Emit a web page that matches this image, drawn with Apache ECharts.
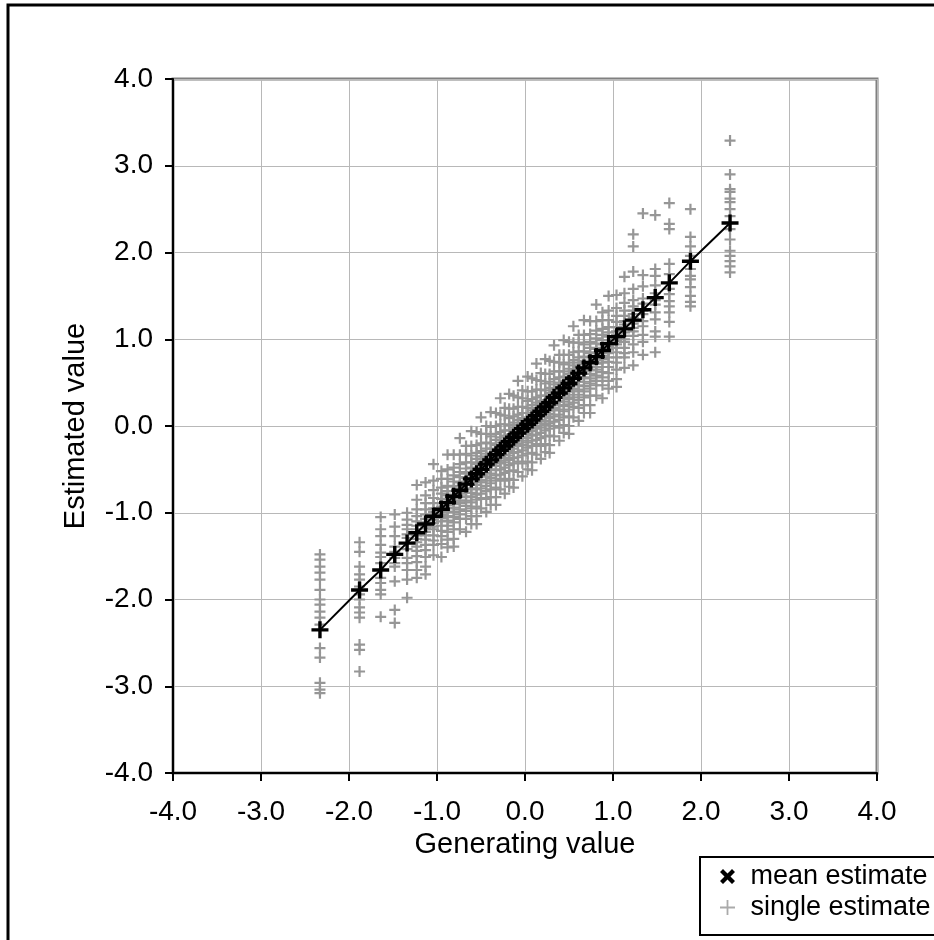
<!DOCTYPE html>
<html>
<head>
<meta charset="utf-8">
<script src="https://cdn.jsdelivr.net/npm/echarts@6/dist/echarts.min.js"></script>
<style>
  html, body { margin: 0; padding: 0; background: #fff; }
  #chart { width: 934px; height: 940px; }
</style>
</head>
<body>
<div id="chart"></div>
<script>
// generating values (one per replicate column)
const genValues = [-2.33, -1.88, -1.64, -1.48, -1.34, -1.23, -1.13, -1.04, -0.95, -0.88,
  -0.81, -0.74, -0.67, -0.61, -0.55, -0.50, -0.44, -0.39, -0.33, -0.28,
  -0.23, -0.18, -0.13, -0.08, -0.03, 0.03, 0.08, 0.13, 0.18, 0.23,
  0.28, 0.33, 0.39, 0.44, 0.50, 0.55, 0.61, 0.67, 0.74, 0.81,
  0.88, 0.95, 1.04, 1.13, 1.23, 1.34, 1.48, 1.64, 1.88, 2.33];

// mean estimate for each generating value
const meanValues = [-2.35, -1.89, -1.66, -1.48, -1.35, -1.23, -1.13, -1.04, -0.96, -0.88,
  -0.81, -0.74, -0.67, -0.61, -0.55, -0.50, -0.44, -0.39, -0.33, -0.28,
  -0.23, -0.18, -0.13, -0.08, -0.03, 0.02, 0.07, 0.12, 0.17, 0.22,
  0.27, 0.33, 0.38, 0.44, 0.49, 0.55, 0.61, 0.67, 0.73, 0.80,
  0.87, 0.95, 1.03, 1.12, 1.22, 1.34, 1.48, 1.65, 1.90, 2.34];

// single estimates, one row per generating value
const singleValues = [
  [-1.48, -1.54, -1.62, -1.69, -1.77, -1.89, -2.00, -2.06, -2.14, -2.21, -2.29, -2.56, -2.67, -2.96, -3.04, -3.08],
  [-1.34, -1.45, -1.62, -1.71, -1.77, -1.85, -1.94, -2.00, -2.09, -2.15, -2.21, -2.52, -2.58, -2.83],
  [-1.05, -1.19, -1.27, -1.37, -1.46, -1.51, -1.58, -1.75, -1.81, -1.89, -1.94, -2.20],
  [-1.02, -1.16, -1.27, -1.39, -1.45, -1.52, -1.58, -1.62, -1.79, -2.12, -2.27],
  [-1.00, -1.08, -1.14, -1.19, -1.25, -1.29, -1.42, -1.52, -1.58, -1.66, -1.77, -1.98],
  [-0.68, -0.85, -0.96, -1.04, -1.10, -1.15, -1.19, -1.23, -1.26, -1.30, -1.34, -1.39, -1.44, -1.50, -1.57, -1.66, -1.75],
  [-0.65, -0.80, -0.89, -0.96, -1.02, -1.07, -1.11, -1.15, -1.18, -1.22, -1.26, -1.31, -1.37, -1.43, -1.51, -1.62, -1.71],
  [-0.44, -0.63, -0.74, -0.83, -0.89, -0.95, -0.99, -1.03, -1.08, -1.12, -1.16, -1.19, -1.26, -1.32, -1.37, -1.49],
  [-0.52, -0.61, -0.71, -0.78, -0.84, -0.89, -0.93, -0.97, -1.02, -1.06, -1.10, -1.15, -1.21, -1.27, -1.36, -1.51],
  [-0.33, -0.50, -0.61, -0.69, -0.75, -0.80, -0.84, -0.88, -0.91, -0.95, -0.99, -1.04, -1.09, -1.15, -1.22, -1.31, -1.40],
  [-0.33, -0.48, -0.57, -0.64, -0.70, -0.75, -0.79, -0.83, -0.86, -0.90, -0.94, -0.99, -1.05, -1.11, -1.19, -1.30, -1.39],
  [-0.14, -0.33, -0.44, -0.53, -0.59, -0.65, -0.69, -0.73, -0.78, -0.82, -0.86, -0.89, -0.96, -1.02, -1.07, -1.19],
  [-0.23, -0.32, -0.42, -0.49, -0.55, -0.60, -0.64, -0.68, -0.73, -0.77, -0.81, -0.86, -0.92, -0.98, -1.07, -1.22],
  [-0.06, -0.23, -0.34, -0.42, -0.48, -0.53, -0.57, -0.61, -0.64, -0.68, -0.72, -0.77, -0.82, -0.88, -0.95, -1.04, -1.13],
  [-0.07, -0.22, -0.31, -0.38, -0.44, -0.49, -0.53, -0.57, -0.60, -0.64, -0.68, -0.73, -0.79, -0.85, -0.93, -1.04, -1.13],
  [0.10, -0.09, -0.20, -0.29, -0.35, -0.41, -0.45, -0.49, -0.54, -0.58, -0.62, -0.65, -0.72, -0.78, -0.83, -0.95],
  [0.00, -0.09, -0.19, -0.26, -0.32, -0.37, -0.41, -0.45, -0.50, -0.54, -0.58, -0.63, -0.69, -0.75, -0.84, -0.99],
  [0.16, -0.01, -0.12, -0.20, -0.26, -0.31, -0.35, -0.39, -0.42, -0.46, -0.50, -0.55, -0.60, -0.66, -0.73, -0.82, -0.91],
  [0.15, 0.00, -0.09, -0.16, -0.22, -0.27, -0.31, -0.35, -0.38, -0.42, -0.46, -0.51, -0.57, -0.63, -0.71, -0.82, -0.91],
  [0.32, 0.13, 0.02, -0.07, -0.13, -0.19, -0.23, -0.27, -0.32, -0.36, -0.40, -0.43, -0.50, -0.56, -0.61, -0.73],
  [0.21, 0.12, 0.02, -0.05, -0.11, -0.16, -0.20, -0.24, -0.29, -0.33, -0.37, -0.42, -0.48, -0.54, -0.63, -0.78],
  [0.37, 0.20, 0.09, 0.01, -0.05, -0.10, -0.14, -0.18, -0.21, -0.25, -0.29, -0.34, -0.39, -0.45, -0.52, -0.61, -0.70],
  [0.35, 0.20, 0.11, 0.04, -0.02, -0.07, -0.11, -0.15, -0.18, -0.22, -0.26, -0.31, -0.37, -0.43, -0.51, -0.62, -0.71],
  [0.52, 0.33, 0.22, 0.13, 0.07, 0.01, -0.03, -0.07, -0.12, -0.16, -0.20, -0.23, -0.30, -0.36, -0.41, -0.53],
  [0.41, 0.32, 0.22, 0.15, 0.09, 0.04, 0.00, -0.04, -0.09, -0.13, -0.17, -0.22, -0.28, -0.34, -0.43, -0.58],
  [0.57, 0.40, 0.29, 0.21, 0.15, 0.10, 0.06, 0.02, -0.01, -0.05, -0.09, -0.14, -0.19, -0.25, -0.32, -0.41, -0.50],
  [0.55, 0.40, 0.31, 0.24, 0.18, 0.13, 0.09, 0.05, 0.02, -0.02, -0.06, -0.11, -0.17, -0.23, -0.31, -0.42, -0.51],
  [0.72, 0.53, 0.42, 0.33, 0.27, 0.21, 0.17, 0.13, 0.08, 0.04, 0.00, -0.03, -0.10, -0.16, -0.21, -0.33],
  [0.61, 0.52, 0.42, 0.35, 0.29, 0.24, 0.20, 0.16, 0.11, 0.07, 0.03, -0.02, -0.08, -0.14, -0.23, -0.38],
  [0.77, 0.60, 0.49, 0.41, 0.35, 0.30, 0.26, 0.22, 0.19, 0.15, 0.11, 0.06, 0.01, -0.05, -0.12, -0.21, -0.30],
  [0.75, 0.60, 0.51, 0.44, 0.38, 0.33, 0.29, 0.25, 0.22, 0.18, 0.14, 0.09, 0.03, -0.03, -0.11, -0.22, -0.31],
  [0.93, 0.74, 0.63, 0.54, 0.48, 0.42, 0.38, 0.34, 0.29, 0.25, 0.21, 0.18, 0.11, 0.05, 0.00, -0.12],
  [0.82, 0.73, 0.63, 0.56, 0.50, 0.45, 0.41, 0.37, 0.32, 0.28, 0.24, 0.19, 0.13, 0.07, -0.02, -0.17],
  [0.99, 0.82, 0.71, 0.63, 0.57, 0.52, 0.48, 0.44, 0.41, 0.37, 0.33, 0.28, 0.23, 0.17, 0.10, 0.01, -0.08],
  [0.97, 0.82, 0.73, 0.66, 0.60, 0.55, 0.51, 0.47, 0.44, 0.40, 0.36, 0.31, 0.25, 0.19, 0.11, 0.00, -0.09],
  [1.15, 0.96, 0.85, 0.76, 0.70, 0.64, 0.60, 0.56, 0.51, 0.47, 0.43, 0.40, 0.33, 0.27, 0.22, 0.10],
  [1.05, 0.96, 0.86, 0.79, 0.73, 0.68, 0.64, 0.60, 0.55, 0.51, 0.47, 0.42, 0.36, 0.30, 0.21, 0.06],
  [1.22, 1.05, 0.94, 0.86, 0.80, 0.75, 0.71, 0.67, 0.64, 0.60, 0.56, 0.51, 0.46, 0.40, 0.33, 0.24, 0.15],
  [1.21, 1.06, 0.97, 0.90, 0.84, 0.79, 0.75, 0.71, 0.68, 0.64, 0.60, 0.55, 0.49, 0.43, 0.35, 0.24, 0.15],
  [1.40, 1.21, 1.10, 1.01, 0.95, 0.89, 0.85, 0.81, 0.76, 0.72, 0.68, 0.65, 0.58, 0.52, 0.47, 0.35],
  [1.31, 1.22, 1.12, 1.05, 0.99, 0.94, 0.90, 0.86, 0.81, 0.77, 0.73, 0.68, 0.62, 0.56, 0.47, 0.32],
  [1.50, 1.33, 1.22, 1.14, 1.08, 1.03, 0.99, 0.95, 0.92, 0.88, 0.84, 0.79, 0.74, 0.68, 0.61, 0.52, 0.43],
  [1.51, 1.36, 1.27, 1.20, 1.14, 1.09, 1.05, 1.01, 0.98, 0.94, 0.90, 0.85, 0.79, 0.73, 0.65, 0.54, 0.45],
  [1.72, 1.53, 1.42, 1.33, 1.27, 1.21, 1.17, 1.13, 1.08, 1.04, 1.00, 0.97, 0.90, 0.84, 0.79, 0.67],
  [2.21, 2.07, 1.78, 1.58, 1.45, 1.38, 1.33, 1.29, 1.25, 1.21, 1.18, 1.13, 1.09, 1.04, 0.94, 0.85, 0.70],
  [2.45, 1.74, 1.61, 1.47, 1.41, 1.33, 1.29, 1.21, 1.15, 1.05, 0.97, 0.82],
  [2.43, 1.81, 1.73, 1.62, 1.53, 1.45, 1.40, 1.31, 1.23, 1.09, 1.03, 0.85],
  [2.57, 2.33, 2.27, 1.87, 1.75, 1.58, 1.52, 1.44, 1.38, 1.31, 1.20, 1.03],
  [2.50, 2.18, 2.07, 1.96, 1.81, 1.73, 1.69, 1.60, 1.50, 1.43, 1.38],
  [3.29, 2.90, 2.73, 2.70, 2.62, 2.58, 2.50, 2.42, 2.27, 2.15, 2.02, 1.96, 1.90, 1.84, 1.77]
];

const axisTicks = [-4, -3, -2, -1, 0, 1, 2, 3, 4];

const PLUS = 'path://M4,0H6V4H10V6H6V10H4V6H0V4H4Z';
const PLUS_THIN = 'path://M4.4,0H5.6V4.4H10V5.6H5.6V10H4.4V5.6H0V4.4H4.4Z';
const CROSS = 'path://M0,2L2,0L5,3L8,0L10,2L7,5L10,8L8,10L5,7L2,10L0,8L3,5Z';
const FONT = 'Liberation Sans, Arial, sans-serif';

const meanData = genValues.map((g, i) => [g, meanValues[i]]);
const singleData = [];
genValues.forEach((g, i) => {
  singleValues[i].forEach(v => singleData.push([g, v]));
});

const chart = echarts.init(document.getElementById('chart'));

const axisCommon = {
  type: 'value',
  min: axisTicks[0],
  max: axisTicks[axisTicks.length - 1],
  interval: 1,
  nameLocation: 'middle',
  nameTextStyle: { fontFamily: FONT, fontSize: 29, color: '#000' },
  axisLine: { show: true, onZero: false, lineStyle: { color: '#000', width: 2 } },
  axisTick: { show: true, length: 8, inside: false, lineStyle: { color: '#000', width: 2 } },
  axisLabel: {
    fontFamily: FONT, fontSize: 28, color: '#000',
    formatter: v => v.toFixed(1)
  },
  splitLine: { show: true, lineStyle: { color: '#b8b8b8', width: 1 } }
};

const option = {
  animation: false,
  backgroundColor: '#fff',
  graphic: [{
    type: 'rect',
    shape: { x: 8, y: 5, width: 1000, height: 1000 },
    style: { fill: 'none', stroke: '#000', lineWidth: 3 },
    z: 100
  }],
  grid: {
    left: 173, top: 79, right: 57, bottom: 167,
    show: true, borderColor: '#808080', borderWidth: 3, backgroundColor: '#fff'
  },
  xAxis: Object.assign({}, axisCommon, {
    name: 'Generating value',
    nameGap: 54,
    axisLabel: Object.assign({}, axisCommon.axisLabel, { margin: 25 })
  }),
  yAxis: Object.assign({}, axisCommon, {
    name: 'Estimated value',
    nameGap: 83,
    axisLabel: Object.assign({}, axisCommon.axisLabel, { margin: 20 })
  }),
  legend: {
    orient: 'vertical',
    left: 700,
    top: 857,
    padding: [6, 20, 14, 20],
    itemGap: 4,
    itemWidth: 36,
    itemHeight: 15,
    borderColor: '#000',
    borderWidth: 2,
    borderRadius: 0,
    backgroundColor: '#fff',
    textStyle: { fontFamily: FONT, fontSize: 27, color: '#000', lineHeight: 26 },
    data: [
      { name: 'mean estimate', icon: CROSS, itemStyle: { color: '#000' } },
      { name: 'single estimate', icon: PLUS_THIN, itemStyle: { color: '#aaaaaa' } }
    ]
  },
  series: [
    {
      name: 'single estimate',
      type: 'scatter',
      symbol: PLUS,
      symbolSize: 11,
      itemStyle: { color: '#969696', opacity: 1 },
      data: singleData,
      z: 2
    },
    {
      name: 'mean estimate',
      type: 'line',
      symbol: PLUS,
      symbolSize: 17,
      showAllSymbol: true,
      itemStyle: { color: '#000' },
      lineStyle: { color: '#000', width: 2 },
      data: meanData,
      z: 3
    }
  ]
};

chart.setOption(option);
window.addEventListener('resize', () => chart.resize());
</script>
</body>
</html>
